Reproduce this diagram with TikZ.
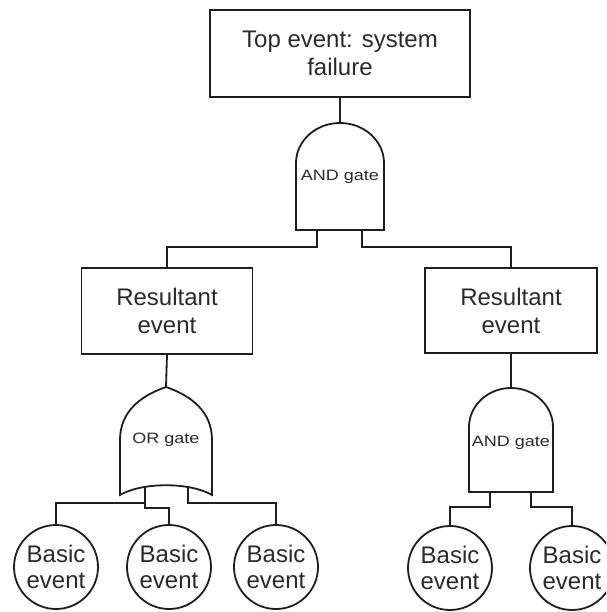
\documentclass[tikz,border=0pt]{standalone}
\usepackage{fontspec}
\setmainfont{Liberation Sans}
\usepackage{graphicx}
\definecolor{lc}{HTML}{1E1E1E}
\definecolor{tc}{HTML}{2A2A2A}
\newcommand\gtxt[1]{\scalebox{1.2}[1]{\fontsize{15}{16}\selectfont #1}}
\begin{document}
\begin{tikzpicture}[x=1pt,y=-1pt,line join=miter,
  ev/.style={draw=lc,line width=1.8pt,fill=white,align=center,inner sep=0pt,text=tc,font={\fontsize{24}{28}\selectfont}},
  basic/.style={circle,draw=lc,line width=1.8pt,fill=white,minimum size=84pt,align=center,inner sep=0pt,text=tc,font={\fontsize{24}{26}\selectfont}},
  gate/.style={draw=lc,line width=1.8pt,fill=white},
  gatelabel/.style={inner sep=0pt,text=tc},
  wire/.style={draw=lc,line width=1.8pt}]
\useasboundingbox (0,0) rectangle (606,612);
\clip (0,0) rectangle (606,612);
\fill[white] (0,0) rectangle (606,612);

% event boxes
\node[ev,minimum width=260pt,minimum height=87pt] (top) at (340,53.5) {Top event: system\\failure};
\node[ev,minimum width=171pt,minimum height=86pt] (lbox) at (167,311) {Resultant\\event};
\node[ev,minimum width=172pt,minimum height=85pt] (rbox) at (511,310.5) {Resultant\\event};

% basic events
\node[basic] (c1) at (56,567) {Basic\\event};
\node[basic] (c2) at (169,567) {Basic\\event};
\node[basic] (c3) at (276,567) {Basic\\event};
\node[basic] (c4) at (450,568) {Basic\\event};
\node[basic] (c5) at (572,568) {Basic\\event};

% top AND gate
\draw[gate] (296,230) -- (296,163) .. controls (296,141) and (315.7,123) .. (340,123)
  .. controls (364.3,123) and (384,141) .. (384,163) -- (384,230) -- cycle;
\coordinate (g1top) at (340,123);
\coordinate (g1a) at (317,230);
\coordinate (g1b) at (362,230);
\node[gatelabel] (g1) at (340,177) {\gtxt{AND gate}};

% right AND gate
\draw[gate] (469,492) -- (469,427) .. controls (469,405.5) and (487.8,388) .. (511,388)
  .. controls (534.2,388) and (553,405.5) .. (553,427) -- (553,492) -- cycle;
\coordinate (g2top) at (511,388);
\coordinate (g2a) at (490,492);
\coordinate (g2b) at (531,492);
\node[gatelabel] (g2) at (511,443) {\gtxt{AND gate}};

% OR gate
\draw[gate] (120,495) -- (120,440) .. controls (120,412) and (140,396) .. (166,387)
  .. controls (192,396) and (212,412) .. (212,440) -- (212,495)
  .. controls (190,482) and (142,482) .. (120,495) -- cycle;
\coordinate (ortop) at (166,387);
\coordinate (ora) at (145,486);
\coordinate (orb) at (188,486);
\node[gatelabel] (org) at (166,440) {\gtxt{OR gate}};

% connectors
\draw[wire] (top.south) -- (g1top);
\draw[wire] (g1a) -- ++(0,17) -| (lbox.north);
\draw[wire] (g1b) -- ++(0,17) -| (rbox.north);
\draw[wire] (lbox.south) -- (ortop);
\draw[wire] (rbox.south) -- (g2top);
\draw[wire] (ora) -- ++(0,17) -| (c1.north);
\draw[wire] (ora) -- ++(0,22) -| (c2.north);
\draw[wire] (orb) -- ++(0,17) -| (c3.north);
\draw[wire] (g2a) -- ++(0,15) -| (c4.north);
\draw[wire] (g2b) -- ++(0,15) -| (c5.north);
\end{tikzpicture}
\end{document}
